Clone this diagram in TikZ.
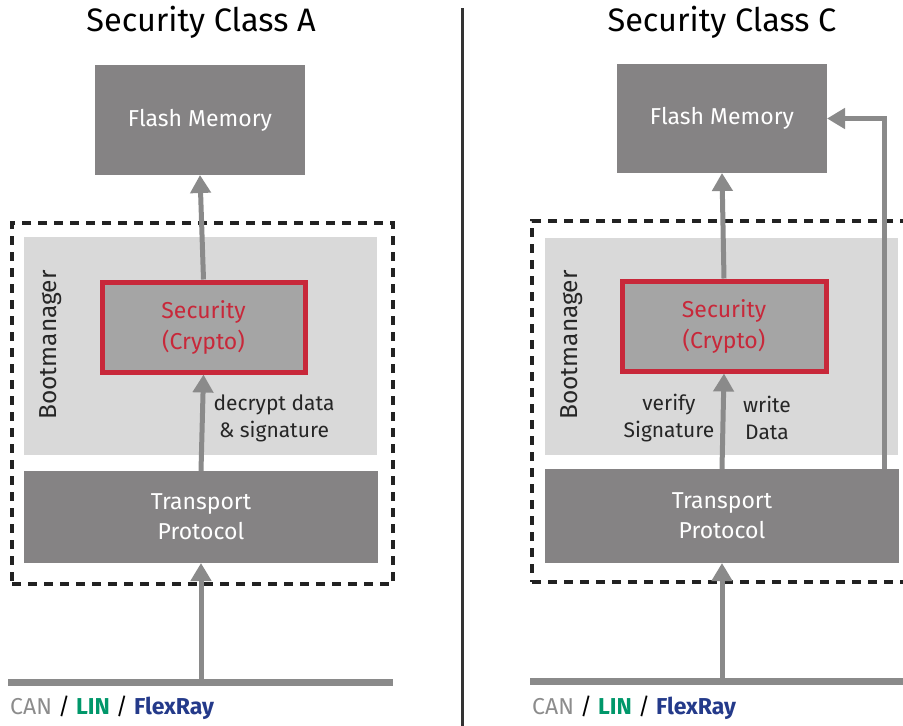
\documentclass[tikz,border=0pt]{standalone}
\usepackage{fontspec}
\setmainfont{Fira Sans}
\usetikzlibrary{arrows.meta}
\definecolor{boxgray}{HTML}{858384}
\definecolor{bmgray}{HTML}{D9D9D9}
\definecolor{secgray}{HTML}{A5A5A5}
\definecolor{secred}{HTML}{C8283A}
\definecolor{arrgray}{HTML}{8A8A8A}
\definecolor{dashblack}{HTML}{222222}
\definecolor{cangray}{HTML}{8C8C8C}
\definecolor{lingreen}{HTML}{00976A}
\definecolor{flexblue}{HTML}{243A8A}
\tikzset{
  darkbox/.style={rectangle, fill=boxgray, inner sep=0pt, outer sep=0pt, anchor=north west, text=white, font=\fontsize{23}{30}\selectfont, align=center},
  bmbox/.style={rectangle, fill=bmgray, inner sep=0pt, outer sep=0pt, anchor=north west},
  secbox/.style={rectangle, fill=secgray, draw=secred, line width=5pt, inner sep=0pt, anchor=north west, text=secred, font=\fontsize{23}{31}\selectfont, align=center},
  frame/.style={rectangle, draw=dashblack, line width=4pt, dash pattern=on 9pt off 7pt, inner sep=0pt, outer sep=0pt, anchor=north west},
  flow/.style={draw=arrgray, line width=5pt, -{Triangle[width=20pt,length=18pt]}},
  busline/.style={draw=arrgray, line width=7pt},
  title/.style={font=\fontsize{32.5}{38}\selectfont, text=black},
  lbl/.style={font=\fontsize{21}{27}\selectfont, text=black!85, align=center},
  bmlbl/.style={rotate=90, font=\fontsize{24.5}{28}\selectfont, text=black!85},
  buslbl/.style={font=\fontsize{23}{26}\selectfont, anchor=west, inner sep=0pt},
}
\begin{document}
\begin{tikzpicture}[x=1pt,y=-1pt]
\useasboundingbox (0,0) rectangle (903,726);
% separator
\draw[line width=3pt, draw=black!80] (462,8) -- (462,726);

% ---------- Left: Class A ----------
\node[title] (tA) at (201,22) {Security Class A};
\node[darkbox, minimum width=210pt, minimum height=110pt] (flA) at (95,65) {Flash Memory};
\node[frame, minimum width=381pt, minimum height=361pt] (frA) at (12,223) {};
\node[bmbox, minimum width=353pt, minimum height=218pt] (bmA) at (24,237) {};
\node[bmlbl] (bmlA) at (51,345) {Bootmanager};
\node[secbox, minimum width=203pt, minimum height=90pt] (secA) at (99.5,279.5) {Security\\(Crypto)};
\node[darkbox, minimum width=354pt, minimum height=92pt] (tpA) at (24,471) {Transport\\Protocol};
\node[lbl] (lA) at (274,418) {decrypt data\\\& signature};
\coordinate (busAl) at (8,682);
\coordinate (busAr) at (393,682);
\draw[busline] (busAl) -- (busAr);
\draw[flow] (secA.north) -- (flA.south);
\draw[flow] (tpA.north) -- (secA.south);
\draw[flow] (tpA.south |- busAl) -- (tpA.south);
\node[buslbl] (canA) at (10,708) {\textcolor{cangray}{CAN} \textcolor{black}{/} \textcolor{lingreen}{\bfseries LIN} \textcolor{black}{/} \textcolor{flexblue}{\bfseries FlexRay}};

% ---------- Right: Class C ----------
\node[title] (tC) at (722,22) {Security Class C};
\node[darkbox, minimum width=210pt, minimum height=109pt] (flC) at (617,64) {Flash Memory};
\node[frame, minimum width=400pt, minimum height=361pt] (frC) at (532,221) {};
\node[bmbox, minimum width=353pt, minimum height=217pt] (bmC) at (545,238) {};
\node[bmlbl] (bmlC) at (572,345) {Bootmanager};
\node[secbox, minimum width=204pt, minimum height=90pt] (secC) at (619.5,278.5) {Security\\(Crypto)};
\node[darkbox, minimum width=354pt, minimum height=94pt] (tpC) at (545,469) {Transport\\Protocol};
\node[lbl] (lC1) at (669,418) {verify\\Signature};
\node[lbl] (lC2) at (767,418) {write\\Data};
\coordinate (busCl) at (530,681);
\coordinate (busCr) at (903,681);
\draw[busline] (busCl) -- (busCr);
\draw[flow] (secC.north) -- (flC.south);
\draw[flow] (tpC.north) -- (secC.south);
\draw[flow] (tpC.south |- busCl) -- (tpC.south);
\coordinate (wr) at (884,469);
\draw[flow] (wr) |- (flC.east);
\node[buslbl] (canC) at (532,708) {\textcolor{cangray}{CAN} \textcolor{black}{/} \textcolor{lingreen}{\bfseries LIN} \textcolor{black}{/} \textcolor{flexblue}{\bfseries FlexRay}};
\end{tikzpicture}
\end{document}
